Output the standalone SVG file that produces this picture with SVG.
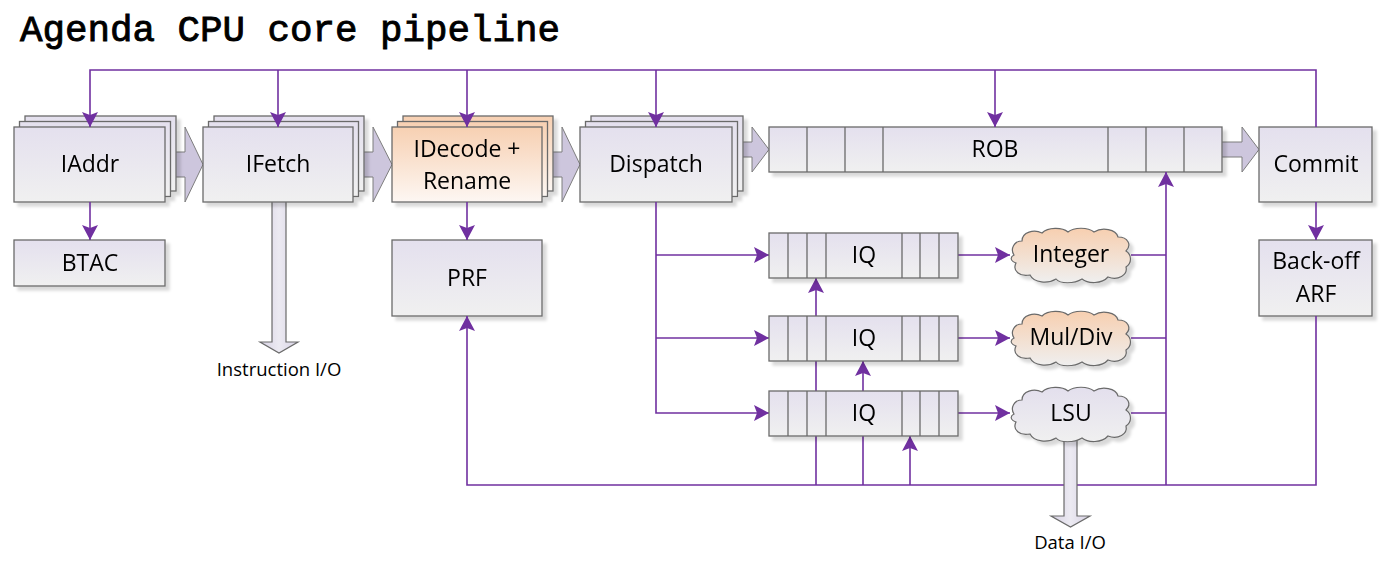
<svg xmlns="http://www.w3.org/2000/svg" xmlns:xlink="http://www.w3.org/1999/xlink" width="1381" height="566" viewBox="0 0 1381 566">
<style>
.box{fill:url(#gBox);stroke:#6a6a6a;stroke-width:1.3}
.obox{fill:url(#gOrange);stroke:#6a6a6a;stroke-width:1.3}
.div{stroke:#6a6a6a;stroke-width:1.3}
.fat{fill:#cdc6dd;stroke:#7d7d7d;stroke-width:1}
.io{fill:url(#gIO);stroke:#6a6a6a;stroke-width:1.2}
.lbl{font-family:"Open Sans","Liberation Sans",sans-serif;font-size:23px;fill:#000;text-anchor:middle}
.small{font-family:"Open Sans","Liberation Sans",sans-serif;font-size:18.5px;fill:#000;text-anchor:middle}
.title{font-family:"Liberation Mono",monospace;font-size:37.5px;fill:#000;stroke:#000;stroke-width:0.9}
.c{fill:none;stroke:#7030a0;stroke-width:1.6}
.ca{fill:none;stroke:#7030a0;stroke-width:1.6;marker-end:url(#ah)}
.cloudO{fill:url(#gCloudO);stroke:#6a6a6a;stroke-width:1.2}
.cloudL{fill:url(#gCloudL);stroke:#6a6a6a;stroke-width:1.2}
.sh{filter:url(#shadow)}
</style>
<defs>
<linearGradient id="gBox" x1="0" y1="0" x2="0" y2="1"><stop offset="0" stop-color="#e4e0ee"/><stop offset="1" stop-color="#f0f0f0"/></linearGradient>
<linearGradient id="gOrange" x1="0" y1="0" x2="0" y2="1"><stop offset="0" stop-color="#f7d0b2"/><stop offset="1" stop-color="#fdf7f3"/></linearGradient>
<linearGradient id="gCloudO" x1="0" y1="0" x2="0" y2="1"><stop offset="0" stop-color="#f7cfb0"/><stop offset="1" stop-color="#efefef"/></linearGradient>
<linearGradient id="gCloudL" x1="0" y1="0" x2="0" y2="1"><stop offset="0" stop-color="#e3dfed"/><stop offset="1" stop-color="#f0f0f0"/></linearGradient>
<linearGradient id="gIO" x1="0" y1="0" x2="1" y2="0"><stop offset="0" stop-color="#d7d2e4"/><stop offset="0.5" stop-color="#eceaf2"/><stop offset="1" stop-color="#d7d2e4"/></linearGradient>
<filter id="shadow" x="-10%" y="-10%" width="130%" height="140%"><feDropShadow dx="4" dy="4" stdDeviation="1.5" flood-color="#000" flood-opacity="0.15"/></filter>
<marker id="ah" markerUnits="userSpaceOnUse" viewBox="0 0 15 16" markerWidth="15" markerHeight="16" refX="15" refY="8" orient="auto"><path d="M0,0 L15,8 L0,16 L3,8 Z" fill="#7030a0"/></marker>
<path id="cloud" d="M4,28 C0,22 4,14 12,14 C12,5 24,2 32,6 C38,0 52,0 58,5 C64,0 78,0 84,5 C92,0 106,2 108,10 C118,10 122,18 116,24 C122,28 122,36 116,40 C118,48 108,54 98,50 C92,57 78,57 72,52 C64,57 50,57 46,52 C38,57 24,56 20,48 C10,50 2,44 6,36 C0,34 0,30 4,28 Z"/>
</defs>
<rect width="1381" height="566" fill="#fff"/>
<text class="title" x="20" y="41">Agenda CPU core pipeline</text>

<g id="flow-arrows">
<polygon class="fat" points="160,152 185,152 185,127 203,164.5 185,202 185,177 160,177"/>
<polygon class="fat" points="348,152 373,152 373,127 392,164.5 373,202 373,177 348,177"/>
<polygon class="fat" points="537,152 562,152 562,127 580,164.5 562,202 562,177 537,177"/>
<polygon class="fat" points="727,142 752,142 752,127 769,149.5 752,172 752,157 727,157"/>
<polygon class="fat" points="1217,142 1242,142 1242,127 1259,149.5 1242,172 1242,157 1217,157"/>
</g>

<g id="instr-io">
<polygon class="io" points="272,200 286,200 286,342 298,342 279,353 260,342 272,342"/>
<text class="small" x="279" y="376">Instruction I/O</text>
</g>

<g id="iaddr" class="sh">
<rect class="box" x="25" y="116" width="151" height="75"/>
<rect class="box" x="19.5" y="121.5" width="151" height="75"/>
<rect class="box" x="14" y="127" width="151" height="75"/>
<text class="lbl" x="90" y="172">IAddr</text>
</g>
<g id="ifetch" class="sh">
<rect class="box" x="214" y="116" width="150" height="75"/>
<rect class="box" x="208.5" y="121.5" width="150" height="75"/>
<rect class="box" x="203" y="127" width="150" height="75"/>
<text class="lbl" x="278" y="172">IFetch</text>
</g>
<g id="idecode" class="sh">
<rect class="obox" x="403" y="116" width="150" height="75"/>
<rect class="obox" x="397.5" y="121.5" width="150" height="75"/>
<rect class="obox" x="392" y="127" width="150" height="75"/>
<text class="lbl" x="467" y="157">IDecode +</text>
<text class="lbl" x="467" y="188.5">Rename</text>
</g>
<g id="dispatch" class="sh">
<rect class="box" x="591" y="116" width="152" height="75"/>
<rect class="box" x="585.5" y="121.5" width="152" height="75"/>
<rect class="box" x="580" y="127" width="152" height="75"/>
<text class="lbl" x="656" y="172">Dispatch</text>
</g>
<g id="rob" class="sh">
<rect class="box" x="769" y="127" width="453" height="45"/>
<path class="div" d="M807,127V172M845,127V172M883,127V172M1108,127V172M1146,127V172M1184,127V172"/>
<text class="lbl" x="995" y="157">ROB</text>
</g>
<g id="commit" class="sh">
<rect class="box" x="1259" y="127" width="113" height="75"/>
<text class="lbl" x="1316" y="172">Commit</text>
</g>
<g id="btac" class="sh">
<rect class="box" x="14" y="240" width="151" height="46"/>
<text class="lbl" x="90" y="271">BTAC</text>
</g>
<g id="prf" class="sh">
<rect class="box" x="392" y="240" width="150" height="76"/>
<text class="lbl" x="467" y="286">PRF</text>
</g>
<g id="arf" class="sh">
<rect class="box" x="1259" y="240" width="113" height="76"/>
<text class="lbl" x="1316" y="268.5">Back-off</text>
<text class="lbl" x="1316" y="302">ARF</text>
</g>

<g id="connectors">
<path class="ca" d="M1316,127V70H90V127"/>
<path class="ca" d="M278,70V127"/>
<path class="ca" d="M467,70V127"/>
<path class="ca" d="M656,70V127"/>
<path class="ca" d="M995,70V127"/>
<path class="ca" d="M90,202V240"/>
<path class="ca" d="M467,202V240"/>
<path class="ca" d="M1316,202V240"/>
<path class="ca" d="M656,202V413H769"/>
<path class="ca" d="M656,255H769"/>
<path class="ca" d="M656,338H769"/>
<path class="ca" d="M958,255H1010"/>
<path class="ca" d="M958,338H1010"/>
<path class="ca" d="M958,413H1010"/>
<path class="c" d="M1131,255H1166M1131,338H1166M1131,413H1166"/>
<path class="ca" d="M1166,485V172"/>
<path class="ca" d="M1316,316V485H467V316"/>
<path class="ca" d="M816,485V278"/>
<path class="ca" d="M863,485V361"/>
<path class="ca" d="M910,485V436"/>
</g>

<g id="iq1" class="sh">
<rect class="box" x="769" y="233" width="189" height="45"/>
<path class="div" d="M788,233V278M807,233V278M826,233V278M902,233V278M920,233V278M939,233V278"/>
<text class="lbl" x="864" y="263">IQ</text>
</g>
<g id="iq2" class="sh">
<rect class="box" x="769" y="316" width="189" height="45"/>
<path class="div" d="M788,316V361M807,316V361M826,316V361M902,316V361M920,316V361M939,316V361"/>
<text class="lbl" x="864" y="346">IQ</text>
</g>
<g id="iq3" class="sh">
<rect class="box" x="769" y="391" width="189" height="45"/>
<path class="div" d="M788,391V436M807,391V436M826,391V436M902,391V436M920,391V436M939,391V436"/>
<text class="lbl" x="864" y="421">IQ</text>
</g>

<g id="data-io">
<polygon class="io" points="1064,430 1077,430 1077,516 1090,516 1070.5,527 1051,516 1064,516"/>
<text class="small" x="1070" y="549">Data I/O</text>
</g>

<g id="integer" class="sh">
<use href="#cloud" xlink:href="#cloud" x="1010" y="227" class="cloudO"/>
<text class="lbl" x="1071" y="262">Integer</text>
</g>
<g id="muldiv" class="sh">
<use href="#cloud" xlink:href="#cloud" x="1010" y="310" class="cloudO"/>
<text class="lbl" x="1071" y="345">Mul/Div</text>
</g>
<g id="lsu" class="sh">
<use href="#cloud" xlink:href="#cloud" x="1010" y="386" class="cloudL"/>
<text class="lbl" x="1071" y="421">LSU</text>
</g>
</svg>
